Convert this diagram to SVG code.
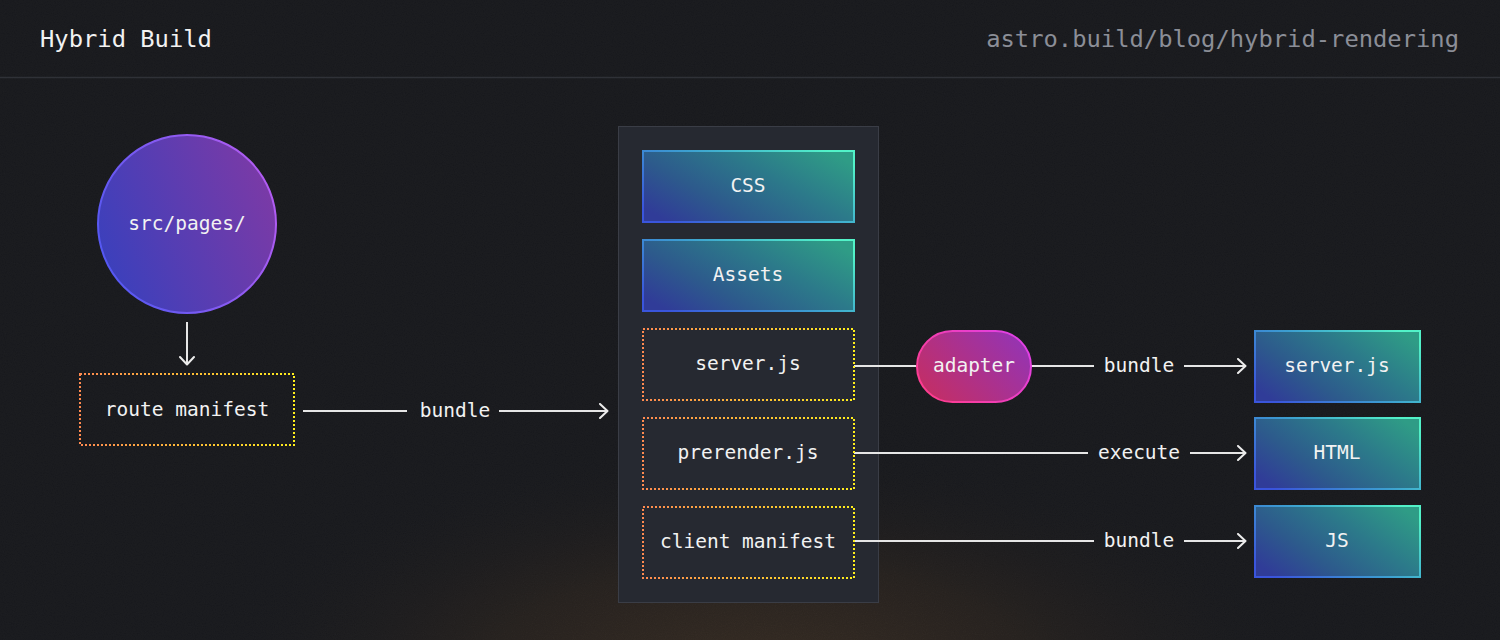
<svg xmlns="http://www.w3.org/2000/svg" width="1500" height="640" viewBox="0 0 1500 640">
  <defs>
    <radialGradient id="glow" cx="760" cy="680" r="560" gradientUnits="userSpaceOnUse" gradientTransform="translate(760 680) scale(1 0.42) translate(-760 -680)">
      <stop offset="0" stop-color="#352a20"/>
      <stop offset="0.5" stop-color="#241f1c"/>
      <stop offset="1" stop-color="#16171b" stop-opacity="0"/>
    </radialGradient>
    <linearGradient id="circleFill" x1="0" y1="0.7" x2="1" y2="0.3">
      <stop offset="0" stop-color="#3a40bc"/>
      <stop offset="1" stop-color="#7c3aa6"/>
    </linearGradient>
    <linearGradient id="circleStroke" x1="0" y1="0.7" x2="1" y2="0.3">
      <stop offset="0" stop-color="#5258f2"/>
      <stop offset="1" stop-color="#b45cf2"/>
    </linearGradient>
    <linearGradient id="tealFill" x1="0" y1="0.8" x2="1" y2="0.2">
      <stop offset="0" stop-color="#303c98"/>
      <stop offset="0.3" stop-color="#2d5a8c"/>
      <stop offset="0.65" stop-color="#2c7a8a"/>
      <stop offset="1" stop-color="#2f9c86"/>
    </linearGradient>
    <linearGradient id="tealStroke" x1="0" y1="0.8" x2="1" y2="0.2">
      <stop offset="0" stop-color="#3a55dc"/>
      <stop offset="0.5" stop-color="#3c9ed0"/>
      <stop offset="1" stop-color="#52f2c8"/>
    </linearGradient>
    <linearGradient id="dotStroke" x1="0" y1="0" x2="1" y2="0">
      <stop offset="0" stop-color="#ff8a50"/>
      <stop offset="1" stop-color="#ffee1c"/>
    </linearGradient>
    <linearGradient id="pillFill" x1="0" y1="0.8" x2="1" y2="0.2">
      <stop offset="0" stop-color="#c42e64"/>
      <stop offset="1" stop-color="#9434b4"/>
    </linearGradient>
    <linearGradient id="pillStroke" x1="0" y1="0.8" x2="1" y2="0.2">
      <stop offset="0" stop-color="#ff3c8c"/>
      <stop offset="1" stop-color="#e040e8"/>
    </linearGradient>
    <filter id="noise" x="0" y="0" width="100%" height="100%">
      <feTurbulence type="fractalNoise" baseFrequency="0.9" numOctaves="2" seed="3" result="n"/>
      <feColorMatrix type="matrix" values="0 0 0 0 1  0 0 0 0 1  0 0 0 0 1  0 0 0 0.035 0" in="n" result="c"/>
      <feComposite in="c" in2="SourceGraphic" operator="in"/>
    </filter>
    <marker id="arrow" viewBox="0 0 12 16" refX="11" refY="8" markerWidth="12" markerHeight="16" markerUnits="userSpaceOnUse" orient="auto">
      <path d="M3 1 L10.5 8 L3 15" fill="none" stroke="#ececec" stroke-width="2" stroke-linecap="round" stroke-linejoin="round"/>
    </marker>
  </defs>
  <style>
    .lbl { font-family: "DejaVu Sans Mono", "Liberation Mono", monospace; font-size: 19.5px; fill: #f2f2f2; text-anchor: middle; }
    .head { font-family: "DejaVu Sans Mono", "Liberation Mono", monospace; font-size: 23.8px; }
    .edge { stroke: #e6e6e6; stroke-width: 2; fill: none; }
    .teal { fill: url(#tealFill); stroke: url(#tealStroke); stroke-width: 2; }
    .dotted { fill: none; stroke: url(#dotStroke); stroke-width: 2; stroke-dasharray: 2 2; }
  </style>

  <rect width="1500" height="640" fill="#16171b"/>
  <rect width="1500" height="640" fill="url(#glow)"/>
  <rect width="1500" height="640" fill="#ffffff" filter="url(#noise)"/>

  <g id="header">
    <text class="head" x="40" y="47" fill="#f2f2f2">Hybrid Build</text>
    <text class="head" x="1459" y="47" fill="#8b8e97" text-anchor="end">astro.build/blog/hybrid-rendering</text>
    <line x1="0" y1="77.5" x2="1500" y2="77.5" stroke="#2f3137" stroke-width="1.5"/>
  </g>

  <g id="container">
    <rect x="618.5" y="126.5" width="260" height="476" fill="#262931" stroke="#3a3d46" stroke-width="1"/>
  </g>

  <g id="connectors">
    <line class="edge" x1="187" y1="322" x2="187" y2="365" marker-end="url(#arrow)"/>
    <line class="edge" x1="303" y1="411" x2="407" y2="411"/>
    <line class="edge" x1="499" y1="411" x2="608" y2="411" marker-end="url(#arrow)"/>
    <line class="edge" x1="854" y1="366" x2="916" y2="366"/>
    <line class="edge" x1="1031" y1="366" x2="1094" y2="366"/>
    <line class="edge" x1="1184" y1="366" x2="1246" y2="366" marker-end="url(#arrow)"/>
    <line class="edge" x1="854" y1="453" x2="1088" y2="453"/>
    <line class="edge" x1="1190" y1="453" x2="1246" y2="453" marker-end="url(#arrow)"/>
    <line class="edge" x1="854" y1="541" x2="1094" y2="541"/>
    <line class="edge" x1="1184" y1="541" x2="1246" y2="541" marker-end="url(#arrow)"/>
    <text class="lbl" x="455" y="417">bundle</text>
    <text class="lbl" x="1139" y="372">bundle</text>
    <text class="lbl" x="1139" y="459">execute</text>
    <text class="lbl" x="1139" y="547">bundle</text>
  </g>

  <g id="src-pages">
    <circle cx="187" cy="224" r="89" fill="url(#circleFill)" stroke="url(#circleStroke)" stroke-width="2"/>
    <text class="lbl" x="187" y="230">src/pages/</text>
  </g>

  <g id="route-manifest">
    <rect class="dotted" x="80" y="374" width="214" height="71"/>
    <text class="lbl" x="187" y="416">route manifest</text>
  </g>

  <g id="css">
    <rect class="teal" x="643" y="151" width="211" height="71"/>
    <text class="lbl" x="748" y="192">CSS</text>
  </g>
  <g id="assets">
    <rect class="teal" x="643" y="240" width="211" height="71"/>
    <text class="lbl" x="748" y="281">Assets</text>
  </g>
  <g id="server-js">
    <rect class="dotted" x="643" y="329" width="211" height="71"/>
    <text class="lbl" x="748" y="370">server.js</text>
  </g>
  <g id="prerender-js">
    <rect class="dotted" x="643" y="418" width="211" height="71"/>
    <text class="lbl" x="748" y="459">prerender.js</text>
  </g>
  <g id="client-manifest">
    <rect class="dotted" x="643" y="507" width="211" height="71"/>
    <text class="lbl" x="748" y="548">client manifest</text>
  </g>

  <g id="adapter">
    <rect x="917" y="331" width="114" height="71" rx="35.5" fill="url(#pillFill)" stroke="url(#pillStroke)" stroke-width="2"/>
    <text class="lbl" x="974" y="372">adapter</text>
  </g>

  <g id="out-server-js">
    <rect class="teal" x="1255" y="331" width="165" height="71"/>
    <text class="lbl" x="1337" y="372">server.js</text>
  </g>
  <g id="out-html">
    <rect class="teal" x="1255" y="418" width="165" height="71"/>
    <text class="lbl" x="1337" y="459">HTML</text>
  </g>
  <g id="out-js">
    <rect class="teal" x="1255" y="506" width="165" height="71"/>
    <text class="lbl" x="1337" y="547">JS</text>
  </g>
</svg>
